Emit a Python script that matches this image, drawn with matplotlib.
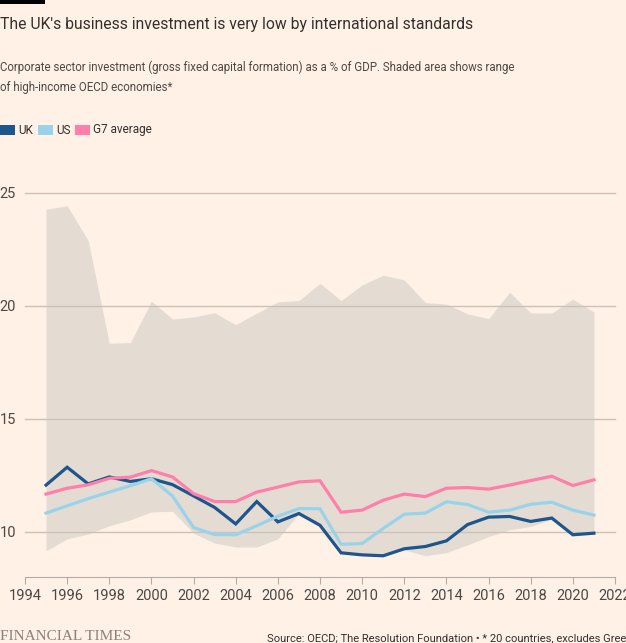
import matplotlib
matplotlib.use("Agg")
import matplotlib.pyplot as plt
from matplotlib.patches import Rectangle

years = list(range(1995, 2022))

uk = [12.07, 12.86, 12.12, 12.43, 12.23, 12.35, 12.09, 11.59, 11.08, 10.35,
      11.34, 10.44, 10.81, 10.29, 9.07, 8.98, 8.94, 9.25, 9.35, 9.60,
      10.32, 10.65, 10.68, 10.46, 10.61, 9.87, 9.94]
us = [10.83, 11.15, 11.47, 11.76, 12.04, 12.35, 11.59, 10.19, 9.88, 9.87,
      10.27, 10.69, 11.03, 11.02, 9.45, 9.48, 10.15, 10.78, 10.83, 11.33,
      11.21, 10.87, 10.96, 11.22, 11.31, 10.96, 10.74]
g7 = [11.67, 11.93, 12.08, 12.37, 12.42, 12.71, 12.43, 11.69, 11.34, 11.34,
      11.76, 11.98, 12.21, 12.26, 10.87, 10.96, 11.40, 11.67, 11.56, 11.93,
      11.96, 11.89, 12.07, 12.27, 12.46, 12.05, 12.30]
oecd_high = [24.28, 24.44, 22.89, 18.35, 18.38, 20.21, 19.42, 19.51, 19.70, 19.17,
             19.68, 20.18, 20.24, 21.00, 20.24, 20.93, 21.36, 21.15, 20.15, 20.08,
             19.65, 19.44, 20.61, 19.69, 19.68, 20.30, 19.73]
oecd_low = [9.16, 9.69, 9.90, 10.27, 10.53, 10.88, 10.91, 9.94, 9.50, 9.33,
            9.33, 9.69, 10.81, 10.25, 9.05, 8.96, 8.92, 9.20, 8.94, 9.08,
            9.42, 9.79, 10.09, 10.24, 10.56, 9.85, 9.92]

bg = "#FFF1E5"
text_dark = "#33302E"
text_mid = "#4D4845"
grid_col = "#CCC1B7"
series = [("UK", uk, "#1E558C"), ("US", us, "#98D3EA"), ("G7 average", g7, "#FF7FAA")]

plt.rcParams["font.family"] = ["Roboto", "DejaVu Sans"]

fig = plt.figure(figsize=(6.26, 6.43), dpi=100, facecolor=bg)
ax = fig.add_axes([25 / 626, 66 / 643, 590 / 626, 384 / 643])
ax.set_facecolor(bg)

ax.fill_between(years, oecd_low, oecd_high, color="#E4DCD3", lw=0, zorder=1)
for name, vals, col in series:
    ax.plot(years, vals, color=col, lw=2.3, zorder=3, solid_joinstyle="miter")

ax.set_xlim(1994, 2022)
ax.set_ylim(8, 25)
ax.set_yticks([10, 15, 20, 25])
ax.set_xticks(range(1994, 2023, 2))
ax.yaxis.grid(True, color=grid_col, lw=1, zorder=2)
ax.set_axisbelow(False)
for sp in ["top", "right", "left"]:
    ax.spines[sp].set_visible(False)
ax.spines["bottom"].set_color("#B5ABA2")
ax.spines["bottom"].set_zorder(4)
ax.tick_params(axis="y", length=0, pad=6.5, labelsize=10.5, labelcolor=text_mid)
ax.tick_params(axis="x", length=5, color="#B5ABA2", pad=4, labelsize=10.5, labelcolor=text_mid)
for gl in ax.get_ygridlines():
    gl.set_clip_on(False)

# header
fig.patches.append(Rectangle((0, 1 - 4 / 643), 45 / 626, 4 / 643, transform=fig.transFigure,
                             color="#000000", lw=0))
fig.text(0, 1 - 25 / 643, "The UK's business investment is very low by international standards",
         fontsize=11.3, color=text_dark, va="center", ha="left")
fig.text(0, 1 - 67 / 643, "Corporate sector investment (gross fixed capital formation) as a % of GDP. Shaded area shows range",
         fontsize=8.3, color=text_mid, va="center", ha="left")
fig.text(0, 1 - 88 / 643, "of high-income OECD economies*",
         fontsize=8.3, color=text_mid, va="center", ha="left")

# legend
lx = [0, 38, 75]
for (name, vals, col), x0 in zip(series, lx):
    fig.patches.append(Rectangle((x0 / 626, 1 - 135 / 643), 15 / 626, 10 / 643,
                                 transform=fig.transFigure, color=col, lw=0))
    fig.text((x0 + 18) / 626, 1 - 130 / 643, name, fontsize=8.5, color=text_dark,
             va="center", ha="left")

# footer
fig.text(0, 1 - 637 / 643, "FINANCIAL TIMES", fontsize=11, color="#8A817A",
         va="center", ha="left", family="Liberation Serif")
fig.text(267 / 626, 1 - 638 / 643,
         "Source: OECD; The Resolution Foundation \u2022 * 20 countries, excludes Greece",
         fontsize=8, color=text_dark, va="center", ha="left")

fig.savefig("out.png", dpi=100, facecolor=bg)
